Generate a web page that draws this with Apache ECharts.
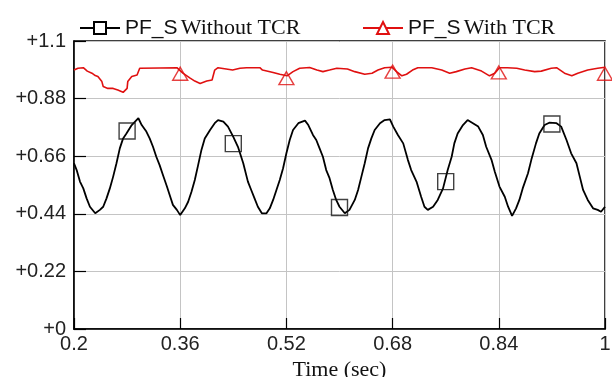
<!DOCTYPE html>
<html>
<head>
<meta charset="utf-8">
<script src="https://cdn.jsdelivr.net/npm/echarts@6/dist/echarts.min.js"></script>
<style>
  html, body { margin: 0; padding: 0; background: #fff; }
  #chart { width: 612px; height: 377px; }
</style>
</head>
<body>
<div id="chart"></div>
<script>
// 不带TCR的功率因数 (黑线)
var timeWithout = [0.200, 0.204, 0.209, 0.214, 0.219, 0.224, 0.232, 0.239, 0.244, 0.249,
  0.254, 0.259, 0.264, 0.269, 0.274, 0.279, 0.287, 0.292, 0.297, 0.302,
  0.309, 0.314, 0.319, 0.324, 0.329, 0.334, 0.340, 0.345, 0.349, 0.355,
  0.360, 0.367, 0.372, 0.377, 0.382, 0.387, 0.392, 0.397, 0.405, 0.412,
  0.417, 0.425, 0.432, 0.440, 0.447, 0.455, 0.462, 0.467, 0.472, 0.477,
  0.483, 0.490, 0.495, 0.500, 0.505, 0.510, 0.515, 0.520, 0.525, 0.530,
  0.538, 0.548, 0.553, 0.560, 0.565, 0.570, 0.575, 0.580, 0.585, 0.590,
  0.595, 0.600, 0.608, 0.615, 0.623, 0.628, 0.633, 0.638, 0.643, 0.648,
  0.653, 0.661, 0.668, 0.676, 0.681, 0.688, 0.696, 0.703, 0.708, 0.716,
  0.723, 0.728, 0.733, 0.741, 0.748, 0.756, 0.763, 0.769, 0.773, 0.778,
  0.786, 0.793, 0.801, 0.809, 0.816, 0.821, 0.829, 0.834, 0.841, 0.849,
  0.854, 0.860, 0.866, 0.871, 0.876, 0.884, 0.889, 0.896, 0.901, 0.909,
  0.916, 0.927, 0.934, 0.942, 0.949, 0.957, 0.962, 0.967, 0.974, 0.982,
  0.989, 0.994, 1.000];
var pfWithout = [0.633, 0.607, 0.563, 0.537, 0.499, 0.467, 0.442, 0.455, 0.467, 0.499,
  0.537, 0.582, 0.633, 0.690, 0.728, 0.747, 0.779, 0.792, 0.805, 0.779,
  0.754, 0.728, 0.696, 0.658, 0.626, 0.588, 0.544, 0.505, 0.474, 0.455,
  0.435, 0.461, 0.486, 0.524, 0.569, 0.626, 0.684, 0.728, 0.760, 0.786,
  0.798, 0.792, 0.773, 0.734, 0.696, 0.633, 0.563, 0.531, 0.499, 0.467,
  0.442, 0.442, 0.461, 0.493, 0.531, 0.569, 0.614, 0.671, 0.722, 0.760,
  0.786, 0.796, 0.779, 0.741, 0.722, 0.690, 0.658, 0.607, 0.576, 0.531,
  0.493, 0.467, 0.442, 0.455, 0.493, 0.531, 0.582, 0.633, 0.690, 0.728,
  0.760, 0.786, 0.798, 0.801, 0.773, 0.741, 0.709, 0.646, 0.607, 0.563,
  0.505, 0.467, 0.455, 0.467, 0.493, 0.537, 0.607, 0.658, 0.709, 0.747,
  0.779, 0.798, 0.786, 0.773, 0.741, 0.696, 0.646, 0.601, 0.544, 0.505,
  0.467, 0.432, 0.461, 0.493, 0.537, 0.595, 0.646, 0.709, 0.747, 0.779,
  0.788, 0.786, 0.773, 0.722, 0.671, 0.633, 0.582, 0.531, 0.493, 0.461,
  0.455, 0.448, 0.467];

// 带TCR的功率因数 (红线)
var timeWith = [0.200, 0.206, 0.214, 0.220, 0.227, 0.232, 0.236, 0.242, 0.244, 0.251,
  0.259, 0.266, 0.274, 0.280, 0.281, 0.287, 0.295, 0.299, 0.302, 0.329,
  0.355, 0.364, 0.375, 0.382, 0.390, 0.400, 0.408, 0.412, 0.417, 0.439,
  0.450, 0.460, 0.480, 0.484, 0.500, 0.510, 0.521, 0.530, 0.540, 0.555,
  0.566, 0.575, 0.585, 0.596, 0.612, 0.623, 0.638, 0.649, 0.658, 0.668,
  0.679, 0.686, 0.694, 0.701, 0.710, 0.718, 0.739, 0.754, 0.766, 0.776,
  0.789, 0.799, 0.814, 0.826, 0.834, 0.841, 0.853, 0.867, 0.879, 0.894,
  0.904, 0.919, 0.927, 0.939, 0.950, 0.959, 0.974, 0.989, 1.000];
var pfWith = [0.989, 0.996, 0.998, 0.985, 0.977, 0.968, 0.964, 0.945, 0.926, 0.919,
  0.919, 0.913, 0.904, 0.919, 0.945, 0.964, 0.970, 0.996, 1.000, 0.997,
  0.998, 0.977, 0.958, 0.947, 0.938, 0.947, 0.951, 0.989, 0.998, 0.989,
  0.996, 0.998, 0.998, 0.989, 0.980, 0.973, 0.967, 0.983, 0.996, 0.999,
  0.989, 0.983, 0.989, 0.996, 0.993, 0.983, 0.973, 0.977, 0.989, 0.998,
  1.000, 0.983, 0.967, 0.973, 0.989, 0.998, 0.998, 0.989, 0.977, 0.983,
  0.993, 0.998, 0.985, 0.967, 0.977, 0.998, 0.998, 0.996, 0.989, 0.983,
  0.985, 0.996, 0.998, 0.977, 0.967, 0.977, 0.989, 0.996, 1.000];

// 标记点
var squareTimes = [0.28, 0.44, 0.60, 0.76, 0.92];
var squareValues = [0.756, 0.708, 0.464, 0.563, 0.783];
var triangleTimes = [0.36, 0.52, 0.68, 0.84, 1.00];
var triangleValues = [0.975, 0.958, 0.983, 0.980, 0.975];

var xTicks = [0.2, 0.36, 0.52, 0.68, 0.84, 1.0];

function pairs(xs, ys) {
  var out = [];
  for (var i = 0; i < xs.length; i++) out.push([xs[i], ys[i]]);
  return out;
}

var sansFont = '"Liberation Sans", Arial, sans-serif';
var serifFont = '"Liberation Serif", "Times New Roman", serif';

var chartDom = document.getElementById('chart');
var myChart = echarts.init(chartDom, null, { renderer: 'canvas' });
var option;

function legendText(name) {
  var rest = name.replace('PF_S ', '');
  return '{a|PF_S} {b|' + rest + '}';
}
var legendRich = {
  a: { fontFamily: sansFont, fontSize: 21, color: '#111' },
  b: { fontFamily: serifFont, fontSize: 22, color: '#111' }
};

option = {
  animation: false,
  backgroundColor: '#fff',
  grid: {
    left: 74, right: 7, top: 41, bottom: 48,
    containLabel: false,
    outerBoundsMode: 'none',
    show: true,
    borderColor: '#000',
    borderWidth: 1.5
  },
  legend: [
    {
      data: ['PF_S Without TCR'],
      left: 74, top: 12,
      itemWidth: 40, itemHeight: 15,
      formatter: legendText,
      textStyle: { rich: legendRich }
    },
    {
      data: ['PF_S With TCR'],
      left: 357, top: 12,
      itemWidth: 40, itemHeight: 15,
      formatter: legendText,
      textStyle: { rich: legendRich }
    }
  ],
  xAxis: {
    type: 'value',
    min: 0.2,
    max: 1.0,
    name: 'Time (sec)',
    nameLocation: 'middle',
    nameGap: 24,
    nameTextStyle: { fontFamily: serifFont, fontSize: 22, color: '#111' },
    axisLine: { show: true, onZero: false, lineStyle: { color: '#000', width: 1.5 } },
    axisTick: { show: true, inside: true, length: 11, customValues: xTicks, lineStyle: { color: '#000', width: 1.2 } },
    axisLabel: {
      customValues: xTicks,
      margin: 5,
      fontFamily: sansFont, fontSize: 20, color: '#222',
      formatter: function (v) { return String(+v.toFixed(2)); }
    },
    splitLine: { show: true, lineStyle: { color: '#c4c4c4', width: 1 } }
  },
  yAxis: {
    type: 'value',
    min: 0,
    max: 1.1,
    interval: 0.22,
    axisLine: { show: true, lineStyle: { color: '#000', width: 1.5 } },
    axisTick: { show: true, inside: true, length: 12, lineStyle: { color: '#000', width: 1.2 } },
    axisLabel: {
      margin: 8,
      fontFamily: sansFont, fontSize: 20, color: '#222',
      formatter: function (v) { return '+' + (+v.toFixed(2)); }
    },
    splitLine: { show: true, lineStyle: { color: '#c4c4c4', width: 1 } }
  },
  series: [
    {
      name: 'PF_S Without TCR',
      type: 'line',
      data: pairs(timeWithout, pfWithout),
      symbol: 'emptyRect',
      showSymbol: false,
      color: '#000',
      lineStyle: { color: '#000', width: 1.8 },
      z: 3
    },
    {
      name: 'PF_S With TCR',
      type: 'line',
      data: pairs(timeWith, pfWith),
      symbol: 'emptyTriangle',
      showSymbol: false,
      color: '#e01010',
      lineStyle: { color: '#e01010', width: 1.6 },
      z: 3
    },
    {
      name: 'squares',
      type: 'scatter',
      data: pairs(squareTimes, squareValues),
      symbol: 'rect',
      symbolSize: 16,
      itemStyle: { color: 'rgba(0,0,0,0)', borderColor: '#111', borderWidth: 1.4 },
      z: 4
    },
    {
      name: 'triangles',
      type: 'scatter',
      data: pairs(triangleTimes, triangleValues),
      symbol: 'triangle',
      symbolSize: [15, 13],
      itemStyle: { color: 'rgba(0,0,0,0)', borderColor: '#e01010', borderWidth: 1.4 },
      z: 4
    }
  ]
};

option && myChart.setOption(option);
</script>
</body>
</html>
